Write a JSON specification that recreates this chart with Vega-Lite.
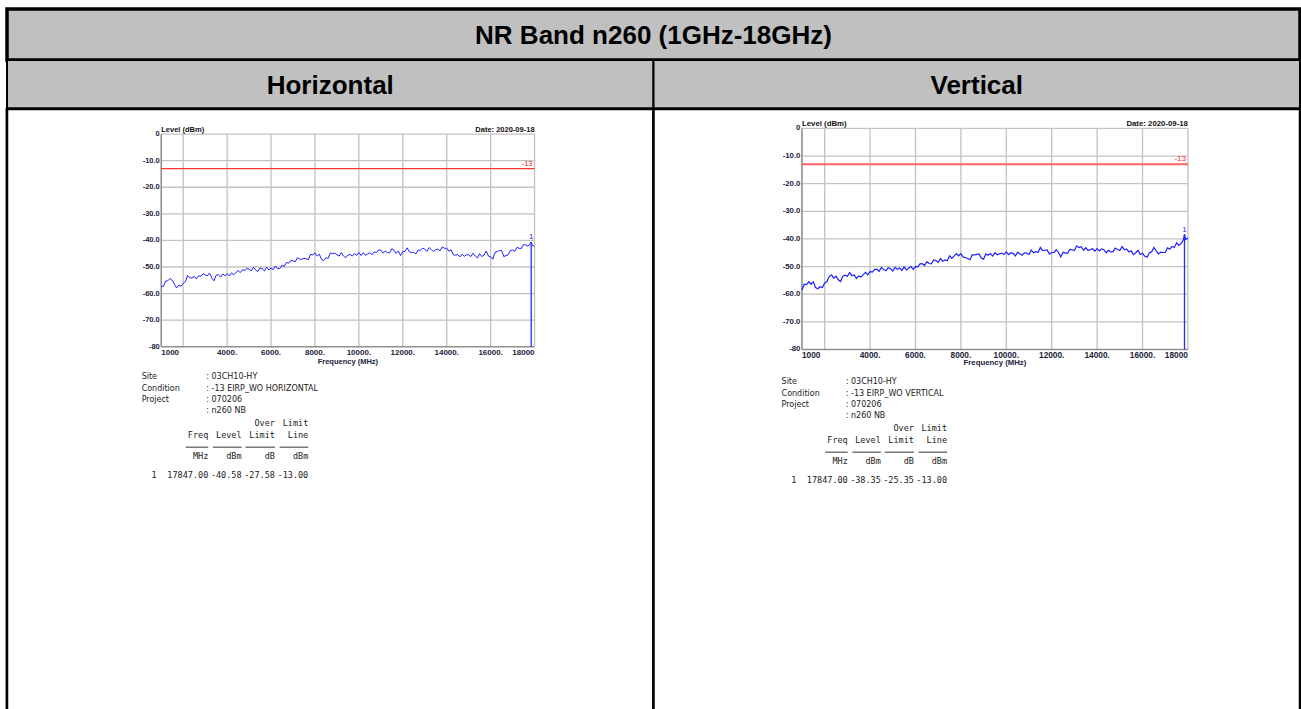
{
"$schema": "https://vega.github.io/schema/vega-lite/v6.json",
"background": "white",
"padding": {"left": 4, "top": 7, "right": 0, "bottom": 0},
"bounds": "flush",
"spacing": 0,
"config": {"axis": {"disable": true}},
"datasets": {
"H": [{"f":1000,"l":-57.2},{"f":1100,"l":-57.3},{"f":1200,"l":-55.3},{"f":1300,"l":-55.2},{"f":1400,"l":-54.3},{"f":1500,"l":-55.0},{"f":1600,"l":-56.5},{"f":1700,"l":-57.9},{"f":1800,"l":-56.8},{"f":1900,"l":-57.3},
{"f":2000,"l":-56.1},{"f":2100,"l":-55.5},{"f":2200,"l":-53.2},{"f":2300,"l":-54.0},{"f":2400,"l":-54.2},{"f":2500,"l":-53.5},{"f":2600,"l":-54.5},{"f":2700,"l":-53.3},{"f":2800,"l":-53.5},{"f":2900,"l":-52.5},
{"f":3000,"l":-53.0},{"f":3100,"l":-53.3},{"f":3200,"l":-52.3},{"f":3300,"l":-54.1},{"f":3400,"l":-55.2},{"f":3500,"l":-53.1},{"f":3600,"l":-52.9},{"f":3700,"l":-53.8},{"f":3800,"l":-52.6},{"f":3900,"l":-53.3},
{"f":4000,"l":-52.5},{"f":4100,"l":-53.4},{"f":4200,"l":-52.2},{"f":4300,"l":-52.9},{"f":4400,"l":-52.1},{"f":4500,"l":-51.3},{"f":4600,"l":-52.1},{"f":4700,"l":-51.0},{"f":4800,"l":-51.3},{"f":4900,"l":-50.6},
{"f":5000,"l":-50.8},{"f":5100,"l":-51.5},{"f":5200,"l":-50.1},{"f":5300,"l":-51.2},{"f":5400,"l":-51.7},{"f":5500,"l":-50.4},{"f":5600,"l":-50.7},{"f":5700,"l":-51.5},{"f":5800,"l":-50.1},{"f":5900,"l":-51.1},
{"f":6000,"l":-50.4},{"f":6100,"l":-51.0},{"f":6200,"l":-49.6},{"f":6300,"l":-50.6},{"f":6400,"l":-50.6},{"f":6500,"l":-49.3},{"f":6600,"l":-49.8},{"f":6700,"l":-48.3},{"f":6800,"l":-48.6},{"f":6900,"l":-47.6},
{"f":7000,"l":-47.6},{"f":7100,"l":-48.1},{"f":7200,"l":-46.5},{"f":7300,"l":-47.0},{"f":7400,"l":-47.1},{"f":7500,"l":-46.7},{"f":7600,"l":-46.9},{"f":7700,"l":-47.3},{"f":7800,"l":-45.2},{"f":7900,"l":-45.5},
{"f":8000,"l":-44.7},{"f":8100,"l":-45.9},{"f":8200,"l":-45.2},{"f":8300,"l":-47.2},{"f":8400,"l":-47.6},{"f":8500,"l":-46.5},{"f":8600,"l":-46.8},{"f":8700,"l":-44.7},{"f":8800,"l":-45.0},{"f":8900,"l":-44.8},
{"f":9000,"l":-45.4},{"f":9100,"l":-45.9},{"f":9200,"l":-44.6},{"f":9300,"l":-45.9},{"f":9400,"l":-46.5},{"f":9500,"l":-45.5},{"f":9600,"l":-45.3},{"f":9700,"l":-45.9},{"f":9800,"l":-45.0},{"f":9900,"l":-45.6},
{"f":10000,"l":-44.5},{"f":10100,"l":-45.7},{"f":10200,"l":-44.6},{"f":10300,"l":-45.6},{"f":10400,"l":-45.1},{"f":10500,"l":-44.6},{"f":10600,"l":-45.4},{"f":10700,"l":-44.3},{"f":10800,"l":-44.6},{"f":10900,"l":-43.6},
{"f":11000,"l":-43.6},{"f":11100,"l":-44.8},{"f":11200,"l":-44.0},{"f":11300,"l":-44.6},{"f":11400,"l":-44.7},{"f":11500,"l":-43.1},{"f":11600,"l":-43.7},{"f":11700,"l":-44.9},{"f":11800,"l":-44.0},{"f":11900,"l":-45.7},
{"f":12000,"l":-44.2},{"f":12100,"l":-44.1},{"f":12200,"l":-42.8},{"f":12300,"l":-44.3},{"f":12400,"l":-44.5},{"f":12500,"l":-44.5},{"f":12600,"l":-45.1},{"f":12700,"l":-43.6},{"f":12800,"l":-43.8},{"f":12900,"l":-42.9},
{"f":13000,"l":-43.3},{"f":13100,"l":-44.1},{"f":13200,"l":-42.7},{"f":13300,"l":-43.5},{"f":13400,"l":-44.2},{"f":13500,"l":-43.4},{"f":13600,"l":-43.3},{"f":13700,"l":-43.9},{"f":13800,"l":-42.4},{"f":13900,"l":-43.0},
{"f":14000,"l":-42.9},{"f":14100,"l":-44.1},{"f":14200,"l":-43.5},{"f":14300,"l":-45.4},{"f":14400,"l":-45.6},{"f":14500,"l":-45.3},{"f":14600,"l":-46.2},{"f":14700,"l":-45.2},{"f":14800,"l":-46.0},{"f":14900,"l":-45.4},
{"f":15000,"l":-45.4},{"f":15100,"l":-46.1},{"f":15200,"l":-44.8},{"f":15300,"l":-45.9},{"f":15400,"l":-46.6},{"f":15500,"l":-45.0},{"f":15600,"l":-46.1},{"f":15700,"l":-45.5},{"f":15800,"l":-44.0},{"f":15900,"l":-45.9},
{"f":16000,"l":-46.2},{"f":16100,"l":-47.1},{"f":16200,"l":-44.5},{"f":16300,"l":-44.2},{"f":16400,"l":-43.8},{"f":16500,"l":-43.8},{"f":16600,"l":-46.1},{"f":16700,"l":-45.7},{"f":16800,"l":-45.4},{"f":16900,"l":-43.8},
{"f":17000,"l":-43.6},{"f":17100,"l":-44.1},{"f":17200,"l":-42.6},{"f":17300,"l":-43.0},{"f":17400,"l":-43.0},{"f":17500,"l":-41.5},{"f":17600,"l":-41.7},{"f":17700,"l":-42.2},{"f":17800,"l":-41.2},{"f":17847,"l":-40.58},{"f":17900,"l":-41.9},{"f":18000,"l":-42.2}],
"V": [{"f":1000,"l":-58.6},{"f":1100,"l":-56.4},{"f":1200,"l":-56.5},{"f":1300,"l":-55.5},{"f":1400,"l":-56.4},{"f":1500,"l":-55.5},{"f":1600,"l":-57.6},{"f":1700,"l":-58.0},{"f":1800,"l":-57.3},{"f":1900,"l":-57.6},
{"f":2000,"l":-56.0},{"f":2100,"l":-55.4},{"f":2200,"l":-53.6},{"f":2300,"l":-53.0},{"f":2400,"l":-54.2},{"f":2500,"l":-53.5},{"f":2600,"l":-54.8},{"f":2700,"l":-55.4},{"f":2800,"l":-53.5},{"f":2900,"l":-53.1},
{"f":3000,"l":-53.5},{"f":3100,"l":-52.2},{"f":3200,"l":-53.3},{"f":3300,"l":-53.0},{"f":3400,"l":-54.3},{"f":3500,"l":-53.4},{"f":3600,"l":-53.8},{"f":3700,"l":-52.9},{"f":3800,"l":-52.1},{"f":3900,"l":-53.0},
{"f":4000,"l":-51.8},{"f":4100,"l":-52.0},{"f":4200,"l":-51.0},{"f":4300,"l":-51.0},{"f":4400,"l":-51.7},{"f":4500,"l":-50.3},{"f":4600,"l":-51.1},{"f":4700,"l":-51.5},{"f":4800,"l":-50.4},{"f":4900,"l":-50.8},
{"f":5000,"l":-51.6},{"f":5100,"l":-50.2},{"f":5200,"l":-51.0},{"f":5300,"l":-50.5},{"f":5400,"l":-51.4},{"f":5500,"l":-50.1},{"f":5600,"l":-51.2},{"f":5700,"l":-50.6},{"f":5800,"l":-50.0},{"f":5900,"l":-51.0},
{"f":6000,"l":-50.0},{"f":6100,"l":-50.1},{"f":6200,"l":-49.0},{"f":6300,"l":-48.9},{"f":6400,"l":-49.6},{"f":6500,"l":-48.2},{"f":6600,"l":-48.9},{"f":6700,"l":-49.0},{"f":6800,"l":-47.6},{"f":6900,"l":-47.8},
{"f":7000,"l":-48.5},{"f":7100,"l":-47.1},{"f":7200,"l":-48.1},{"f":7300,"l":-47.6},{"f":7400,"l":-47.9},{"f":7500,"l":-46.1},{"f":7600,"l":-47.0},{"f":7700,"l":-46.2},{"f":7800,"l":-45.3},{"f":7900,"l":-46.1},
{"f":8000,"l":-45.3},{"f":8100,"l":-46.6},{"f":8200,"l":-46.7},{"f":8300,"l":-47.1},{"f":8400,"l":-47.5},{"f":8500,"l":-45.7},{"f":8600,"l":-45.8},{"f":8700,"l":-45.6},{"f":8800,"l":-45.4},{"f":8900,"l":-46.9},
{"f":9000,"l":-47.3},{"f":9100,"l":-45.4},{"f":9200,"l":-45.9},{"f":9300,"l":-45.3},{"f":9400,"l":-46.2},{"f":9500,"l":-45.0},{"f":9600,"l":-45.7},{"f":9700,"l":-45.4},{"f":9800,"l":-45.1},{"f":9900,"l":-45.6},
{"f":10000,"l":-44.7},{"f":10100,"l":-45.7},{"f":10200,"l":-45.0},{"f":10300,"l":-45.2},{"f":10400,"l":-46.2},{"f":10500,"l":-44.8},{"f":10600,"l":-45.4},{"f":10700,"l":-45.9},{"f":10800,"l":-45.0},{"f":10900,"l":-45.1},
{"f":11000,"l":-45.6},{"f":11100,"l":-44.0},{"f":11200,"l":-45.0},{"f":11300,"l":-44.6},{"f":11400,"l":-44.8},{"f":11500,"l":-43.1},{"f":11600,"l":-44.2},{"f":11700,"l":-44.1},{"f":11800,"l":-44.0},{"f":11900,"l":-45.5},
{"f":12000,"l":-44.9},{"f":12100,"l":-44.9},{"f":12200,"l":-43.9},{"f":12300,"l":-44.9},{"f":12400,"l":-46.5},{"f":12500,"l":-44.8},{"f":12600,"l":-45.1},{"f":12700,"l":-45.1},{"f":12800,"l":-43.8},{"f":12900,"l":-43.9},
{"f":13000,"l":-44.2},{"f":13100,"l":-42.5},{"f":13200,"l":-43.1},{"f":13300,"l":-42.8},{"f":13400,"l":-44.1},{"f":13500,"l":-43.2},{"f":13600,"l":-44.2},{"f":13700,"l":-43.8},{"f":13800,"l":-43.5},{"f":13900,"l":-44.4},
{"f":14000,"l":-43.5},{"f":14100,"l":-44.3},{"f":14200,"l":-43.6},{"f":14300,"l":-43.9},{"f":14400,"l":-45.0},{"f":14500,"l":-44.1},{"f":14600,"l":-44.7},{"f":14700,"l":-44.6},{"f":14800,"l":-43.3},{"f":14900,"l":-43.8},
{"f":15000,"l":-44.2},{"f":15100,"l":-42.8},{"f":15200,"l":-43.9},{"f":15300,"l":-43.6},{"f":15400,"l":-44.7},{"f":15500,"l":-44.3},{"f":15600,"l":-45.7},{"f":15700,"l":-45.0},{"f":15800,"l":-44.1},{"f":15900,"l":-45.6},
{"f":16000,"l":-45.2},{"f":16100,"l":-46.3},{"f":16200,"l":-46.6},{"f":16300,"l":-45.0},{"f":16400,"l":-44.7},{"f":16500,"l":-43.1},{"f":16600,"l":-44.3},{"f":16700,"l":-45.4},{"f":16800,"l":-44.8},{"f":16900,"l":-44.9},
{"f":17000,"l":-44.9},{"f":17100,"l":-43.2},{"f":17200,"l":-43.7},{"f":17300,"l":-42.7},{"f":17400,"l":-43.1},{"f":17500,"l":-41.4},{"f":17600,"l":-42.3},{"f":17700,"l":-41.6},{"f":17800,"l":-40.3},{"f":17847,"l":-38.35},{"f":17900,"l":-40.2},{"f":18000,"l":-39.7}],
"xt": [{"v":1000,"lab":"1000"},{"v":2000,"lab":""},{"v":4000,"lab":"4000."},{"v":6000,"lab":"6000."},{"v":8000,"lab":"8000."},{"v":10000,"lab":"10000."},{"v":12000,"lab":"12000."},{"v":14000,"lab":"14000."},{"v":16000,"lab":"16000."},{"v":18000,"lab":"18000"}],
"yt": [{"v":0,"lab":"0"},{"v":-10,"lab":"-10.0"},{"v":-20,"lab":"-20.0"},{"v":-30,"lab":"-30.0"},{"v":-40,"lab":"-40.0"},{"v":-50,"lab":"-50.0"},{"v":-60,"lab":"-60.0"},{"v":-70,"lab":"-70.0"},{"v":-80,"lab":"-80"}],
"pols": [{"pol": "Horizontal"}, {"pol": "Vertical"}],
"infoH": [{"ln":0,"key":"Site","val":": 03CH10-HY"},{"ln":1,"key":"Condition","val":": -13 EIRP_WO HORIZONTAL"},{"ln":2,"key":"Project","val":": 070206"},{"ln":3,"key":"","val":": n260 NB"}],
"infoV": [{"ln":0,"key":"Site","val":": 03CH10-HY"},{"ln":1,"key":"Condition","val":": -13 EIRP_WO VERTICAL"},{"ln":2,"key":"Project","val":": 070206"},{"ln":3,"key":"","val":": n260 NB"}],
"tabH": [{"col":1,"from":0.32,"top":"","head":"Freq","unit":"MHz","val":"17847.00"},{"col":2,"from":1.14,"top":"","head":"Level","unit":"dBm","val":"-40.58"},{"col":3,"from":2.12,"top":"Over","head":"Limit","unit":"dB","val":"-27.58"},{"col":4,"from":3.14,"top":"Limit","head":"Line","unit":"dBm","val":"-13.00"}],
"tabV": [{"col":1,"from":0.32,"top":"","head":"Freq","unit":"MHz","val":"17847.00"},{"col":2,"from":1.14,"top":"","head":"Level","unit":"dBm","val":"-38.35"},{"col":3,"from":2.12,"top":"Over","head":"Limit","unit":"dB","val":"-25.35"},{"col":4,"from":3.14,"top":"Limit","head":"Line","unit":"dBm","val":"-13.00"}]
},
"vconcat": [
 {"width": 1293, "height": 51, "view": {"fill": "#c0c0c0", "stroke": "black", "strokeWidth": 3.5},
  "data": {"values": [{"t": "NR Band n260 (1GHz-18GHz)"}]},
  "mark": {"type": "text", "font": "Liberation Sans", "fontWeight": "bold", "fontSize": 26, "baseline": "middle", "color": "black", "dy": 1.5},
  "encoding": {"text": {"field": "t"}}},
 {"width": 1293, "height": 48.5, "view": {"fill": "#c0c0c0", "stroke": "black", "strokeWidth": 2},
  "data": {"name": "pols"},
  "encoding": {"x": {"field": "pol", "type": "nominal", "sort": null, "scale": {"paddingInner": 0, "paddingOuter": 0}}},
  "layer": [
   {"mark": {"type": "rect", "fill": "#c0c0c0", "stroke": "black", "strokeWidth": 2}},
   {"mark": {"type": "text", "font": "Liberation Sans", "fontWeight": "bold", "fontSize": 26, "baseline": "middle", "color": "black", "dy": 2},
    "encoding": {"text": {"field": "pol"}}}
  ]},
 {"width": 1293, "height": 605, "view": {"fill": "white", "stroke": "black", "strokeWidth": 2.5},
  "resolve": {"scale": {"x": "independent", "y": "independent"}},
  "layer": [
   {"data": {"name": "pols"}, "mark": {"type": "rect", "fill": "white", "stroke": "black", "strokeWidth": 2.5},
    "encoding": {"x": {"field": "pol", "type": "nominal", "sort": null, "scale": {"paddingInner": 0, "paddingOuter": 0}}}},
   {"layer": [
     {"data": {"name": "xt"}, "transform": [{"filter": "datum.v > 1000"}], "mark": {"type": "rule", "color": "#c2c2c2", "strokeWidth": 1.3},
      "encoding": {"x": {"field": "v", "type": "quantitative", "scale": {"domain": [1000, 18000], "range": [154.25, 527.55], "nice": false, "zero": false}},
                   "y": {"datum": -80, "type": "quantitative", "scale": {"domain": [-80, 0], "range": [237.75, 25.05], "nice": false, "zero": false}}, "y2": {"datum": 0}}},
     {"data": {"name": "yt"}, "transform": [{"filter": "datum.v > -80"}], "mark": {"type": "rule", "color": "#c2c2c2", "strokeWidth": 1.3},
      "encoding": {"y": {"field": "v", "type": "quantitative"}, "x": {"datum": 1000, "type": "quantitative"}, "x2": {"datum": 18000}}},
     {"data": {"name": "xt"}, "transform": [{"filter": "datum.v == 1000"}], "mark": {"type": "rule", "color": "#8f8f8f", "strokeWidth": 1.6},
      "encoding": {"x": {"field": "v", "type": "quantitative"}, "y": {"datum": -80, "type": "quantitative"}, "y2": {"datum": 0}}},
     {"data": {"name": "yt"}, "transform": [{"filter": "datum.v == -80"}], "mark": {"type": "rule", "color": "#8f8f8f", "strokeWidth": 1.6},
      "encoding": {"y": {"field": "v", "type": "quantitative"}, "x": {"datum": 1000, "type": "quantitative"}, "x2": {"datum": 18000}}},
     {"data": {"values": [{"limit": -13}]}, "mark": {"type": "rule", "color": "#ff3030", "strokeWidth": 1.2},
      "encoding": {"x": {"datum": 1000, "type": "quantitative"}, "x2": {"datum": 18000}, "y": {"field": "limit", "type": "quantitative"}}},
     {"data": {"name": "H"}, "mark": {"type": "line", "color": "#1f1fff", "strokeWidth": 1},
      "encoding": {"x": {"field": "f", "type": "quantitative"}, "y": {"field": "l", "type": "quantitative"}}},
     {"data": {"values": [{"limit": -13, "lab": "-13"}]}, "mark": {"type": "text", "color": "#ff2020", "fontSize": 7.5, "font": "Liberation Sans", "align": "right", "baseline": "bottom", "dx": -2, "dy": -0.5},
      "encoding": {"x": {"datum": 18000, "type": "quantitative"}, "y": {"field": "limit", "type": "quantitative"}, "text": {"field": "lab"}}},
     {"data": {"values": [{"f": 17847, "l": -40.58, "m": "1"}]}, "mark": {"type": "rule", "color": "#2a2aff", "strokeWidth": 1.3},
      "encoding": {"x": {"field": "f", "type": "quantitative"}, "y": {"field": "l", "type": "quantitative"}, "y2": {"datum": -80}}},
     {"data": {"values": [{"f": 17847, "l": -40.58, "m": "1"}]}, "mark": {"type": "text", "color": "#2a2aff", "fontSize": 8, "font": "Liberation Sans", "baseline": "bottom", "dy": -0.5},
      "encoding": {"x": {"field": "f", "type": "quantitative"}, "y": {"field": "l", "type": "quantitative"}, "text": {"field": "m"}}},
     {"data": {"values": [{"a": "Level (dBm)", "d": "Date: 2020-09-18"}]}, "mark": {"type": "text", "color": "#111111", "fontSize": 7.5, "fontWeight": "bold", "font": "Liberation Sans", "align": "left", "baseline": "alphabetic", "dy": -2},
      "encoding": {"x": {"datum": 1000, "type": "quantitative"}, "y": {"datum": 0, "type": "quantitative"}, "text": {"field": "a"}}},
     {"data": {"values": [{"a": "Level (dBm)", "d": "Date: 2020-09-18"}]}, "mark": {"type": "text", "color": "#111111", "fontSize": 7.5, "fontWeight": "bold", "font": "Liberation Sans", "align": "right", "baseline": "alphabetic", "dy": -2},
      "encoding": {"x": {"datum": 18000, "type": "quantitative"}, "y": {"datum": 0, "type": "quantitative"}, "text": {"field": "d"}}},
     {"data": {"name": "xt"}, "transform": [{"filter": "datum.v == 1000"}], "mark": {"type": "text", "color": "#1c1c3a", "fontSize": 8, "fontWeight": "bold", "font": "Liberation Sans", "align": "left", "baseline": "top", "dy": 2},
      "encoding": {"x": {"field": "v", "type": "quantitative"}, "y": {"datum": -80, "type": "quantitative"}, "text": {"field": "lab"}}},
     {"data": {"name": "xt"}, "transform": [{"filter": "datum.v > 1000 && datum.v < 18000"}], "mark": {"type": "text", "color": "#1c1c3a", "fontSize": 8, "fontWeight": "bold", "font": "Liberation Sans", "align": "center", "baseline": "top", "dy": 2},
      "encoding": {"x": {"field": "v", "type": "quantitative"}, "y": {"datum": -80, "type": "quantitative"}, "text": {"field": "lab"}}},
     {"data": {"name": "xt"}, "transform": [{"filter": "datum.v == 18000"}], "mark": {"type": "text", "color": "#1c1c3a", "fontSize": 8, "fontWeight": "bold", "font": "Liberation Sans", "align": "right", "baseline": "top", "dy": 2},
      "encoding": {"x": {"field": "v", "type": "quantitative"}, "y": {"datum": -80, "type": "quantitative"}, "text": {"field": "lab"}}},
     {"data": {"name": "yt"}, "mark": {"type": "text", "color": "#1c1c3a", "fontSize": 7.5, "fontWeight": "bold", "font": "Liberation Sans", "align": "right", "baseline": "middle", "dx": -1.5},
      "encoding": {"x": {"datum": 1000, "type": "quantitative"}, "y": {"field": "v", "type": "quantitative"}, "text": {"field": "lab"}}},
     {"data": {"values": [{"t": "Frequency (MHz)"}]}, "mark": {"type": "text", "color": "#1c1c3a", "fontSize": 7.5, "fontWeight": "bold", "font": "Liberation Sans", "align": "center", "baseline": "top", "dy": 11},
      "encoding": {"x": {"datum": 9500, "type": "quantitative"}, "y": {"datum": -80, "type": "quantitative"}, "text": {"field": "t"}}}
   ]},
   {"layer": [
     {"data": {"name": "infoH"}, "mark": {"type": "text", "align": "left", "baseline": "middle", "font": "DejaVu Sans", "fontSize": 8, "color": "#1a1a1a"},
      "encoding": {"x": {"datum": -1, "type": "quantitative", "scale": {"domain": [-1, 4], "range": [134.63, 301.25], "nice": false, "zero": false}},
                   "y": {"field": "ln", "type": "quantitative", "scale": {"domain": [0, 10], "range": [268.45, 379.45], "nice": false, "zero": false}}, "text": {"field": "key"}}},
     {"data": {"name": "infoH"}, "mark": {"type": "text", "align": "left", "baseline": "middle", "font": "DejaVu Sans", "fontSize": 8, "color": "#1a1a1a"},
      "encoding": {"x": {"datum": 0.94, "type": "quantitative"}, "y": {"field": "ln", "type": "quantitative"}, "text": {"field": "val"}}},
     {"data": {"name": "tabH"}, "mark": {"type": "text", "align": "right", "baseline": "middle", "font": "DejaVu Sans Mono", "fontSize": 8.5, "color": "#1a1a1a"},
      "encoding": {"x": {"field": "col", "type": "quantitative"}, "y": {"datum": 4.14, "type": "quantitative"}, "text": {"field": "top"}}},
     {"data": {"name": "tabH"}, "mark": {"type": "text", "align": "right", "baseline": "middle", "font": "DejaVu Sans Mono", "fontSize": 8.5, "color": "#1a1a1a"},
      "encoding": {"x": {"field": "col", "type": "quantitative"}, "y": {"datum": 5.16, "type": "quantitative"}, "text": {"field": "head"}}},
     {"data": {"name": "tabH"}, "mark": {"type": "rule", "color": "#333333", "strokeWidth": 1},
      "encoding": {"x": {"field": "from", "type": "quantitative"}, "x2": {"field": "col"}, "y": {"datum": 6.28, "type": "quantitative"}}},
     {"data": {"name": "tabH"}, "mark": {"type": "text", "align": "right", "baseline": "middle", "font": "DejaVu Sans Mono", "fontSize": 8.5, "color": "#1a1a1a"},
      "encoding": {"x": {"field": "col", "type": "quantitative"}, "y": {"datum": 7.1, "type": "quantitative"}, "text": {"field": "unit"}}},
     {"data": {"name": "tabH"}, "mark": {"type": "text", "align": "right", "baseline": "middle", "font": "DejaVu Sans Mono", "fontSize": 8.5, "color": "#1a1a1a"},
      "encoding": {"x": {"field": "col", "type": "quantitative"}, "y": {"datum": 8.78, "type": "quantitative"}, "text": {"field": "val"}}},
     {"data": {"values": [{"no": "1"}]}, "mark": {"type": "text", "align": "center", "baseline": "middle", "font": "DejaVu Sans Mono", "fontSize": 8.5, "color": "#1a1a1a"},
      "encoding": {"x": {"datum": -0.63, "type": "quantitative"}, "y": {"datum": 8.78, "type": "quantitative"}, "text": {"field": "no"}}}
   ]},
   {"layer": [
     {"data": {"name": "xt"}, "transform": [{"filter": "datum.v > 1000"}], "mark": {"type": "rule", "color": "#c2c2c2", "strokeWidth": 1.3},
      "encoding": {"x": {"field": "v", "type": "quantitative", "scale": {"domain": [1000, 18000], "range": [794.95, 1180.95], "nice": false, "zero": false}},
                   "y": {"datum": -80, "type": "quantitative", "scale": {"domain": [-80, 0], "range": [240.45, 19.45], "nice": false, "zero": false}}, "y2": {"datum": 0}}},
     {"data": {"name": "yt"}, "transform": [{"filter": "datum.v > -80"}], "mark": {"type": "rule", "color": "#c2c2c2", "strokeWidth": 1.3},
      "encoding": {"y": {"field": "v", "type": "quantitative"}, "x": {"datum": 1000, "type": "quantitative"}, "x2": {"datum": 18000}}},
     {"data": {"name": "xt"}, "transform": [{"filter": "datum.v == 1000"}], "mark": {"type": "rule", "color": "#8f8f8f", "strokeWidth": 1.6},
      "encoding": {"x": {"field": "v", "type": "quantitative"}, "y": {"datum": -80, "type": "quantitative"}, "y2": {"datum": 0}}},
     {"data": {"name": "yt"}, "transform": [{"filter": "datum.v == -80"}], "mark": {"type": "rule", "color": "#8f8f8f", "strokeWidth": 1.6},
      "encoding": {"y": {"field": "v", "type": "quantitative"}, "x": {"datum": 1000, "type": "quantitative"}, "x2": {"datum": 18000}}},
     {"data": {"values": [{"limit": -13}]}, "mark": {"type": "rule", "color": "#ff6060", "strokeWidth": 2},
      "encoding": {"x": {"datum": 1000, "type": "quantitative"}, "x2": {"datum": 18000}, "y": {"field": "limit", "type": "quantitative"}}},
     {"data": {"name": "V"}, "mark": {"type": "line", "color": "#1f1fff", "strokeWidth": 1.2},
      "encoding": {"x": {"field": "f", "type": "quantitative"}, "y": {"field": "l", "type": "quantitative"}}},
     {"data": {"values": [{"limit": -13, "lab": "-13"}]}, "mark": {"type": "text", "color": "#ff2020", "fontSize": 8, "font": "Liberation Sans", "align": "right", "baseline": "bottom", "dx": -2, "dy": -1},
      "encoding": {"x": {"datum": 18000, "type": "quantitative"}, "y": {"field": "limit", "type": "quantitative"}, "text": {"field": "lab"}}},
     {"data": {"values": [{"f": 17847, "l": -38.35, "m": "1"}]}, "mark": {"type": "rule", "color": "#2a2aff", "strokeWidth": 1.3},
      "encoding": {"x": {"field": "f", "type": "quantitative"}, "y": {"field": "l", "type": "quantitative"}, "y2": {"datum": -80}}},
     {"data": {"values": [{"f": 17847, "l": -38.35, "m": "1"}]}, "mark": {"type": "text", "color": "#2a2aff", "fontSize": 8, "font": "Liberation Sans", "baseline": "bottom", "dy": -0.5},
      "encoding": {"x": {"field": "f", "type": "quantitative"}, "y": {"field": "l", "type": "quantitative"}, "text": {"field": "m"}}},
     {"data": {"values": [{"a": "Level (dBm)", "d": "Date: 2020-09-18"}]}, "mark": {"type": "text", "color": "#111111", "fontSize": 7.8, "fontWeight": "bold", "font": "Liberation Sans", "align": "left", "baseline": "alphabetic", "dy": -2},
      "encoding": {"x": {"datum": 1000, "type": "quantitative"}, "y": {"datum": 0, "type": "quantitative"}, "text": {"field": "a"}}},
     {"data": {"values": [{"a": "Level (dBm)", "d": "Date: 2020-09-18"}]}, "mark": {"type": "text", "color": "#111111", "fontSize": 7.8, "fontWeight": "bold", "font": "Liberation Sans", "align": "right", "baseline": "alphabetic", "dy": -2},
      "encoding": {"x": {"datum": 18000, "type": "quantitative"}, "y": {"datum": 0, "type": "quantitative"}, "text": {"field": "d"}}},
     {"data": {"name": "xt"}, "transform": [{"filter": "datum.v == 1000"}], "mark": {"type": "text", "color": "#1c1c3a", "fontSize": 8.3, "fontWeight": "bold", "font": "Liberation Sans", "align": "left", "baseline": "top", "dy": 2},
      "encoding": {"x": {"field": "v", "type": "quantitative"}, "y": {"datum": -80, "type": "quantitative"}, "text": {"field": "lab"}}},
     {"data": {"name": "xt"}, "transform": [{"filter": "datum.v > 1000 && datum.v < 18000"}], "mark": {"type": "text", "color": "#1c1c3a", "fontSize": 8.3, "fontWeight": "bold", "font": "Liberation Sans", "align": "center", "baseline": "top", "dy": 2},
      "encoding": {"x": {"field": "v", "type": "quantitative"}, "y": {"datum": -80, "type": "quantitative"}, "text": {"field": "lab"}}},
     {"data": {"name": "xt"}, "transform": [{"filter": "datum.v == 18000"}], "mark": {"type": "text", "color": "#1c1c3a", "fontSize": 8.3, "fontWeight": "bold", "font": "Liberation Sans", "align": "right", "baseline": "top", "dy": 2},
      "encoding": {"x": {"field": "v", "type": "quantitative"}, "y": {"datum": -80, "type": "quantitative"}, "text": {"field": "lab"}}},
     {"data": {"name": "yt"}, "mark": {"type": "text", "color": "#1c1c3a", "fontSize": 7.8, "fontWeight": "bold", "font": "Liberation Sans", "align": "right", "baseline": "middle", "dx": -1.5},
      "encoding": {"x": {"datum": 1000, "type": "quantitative"}, "y": {"field": "v", "type": "quantitative"}, "text": {"field": "lab"}}},
     {"data": {"values": [{"t": "Frequency (MHz)"}]}, "mark": {"type": "text", "color": "#1c1c3a", "fontSize": 7.8, "fontWeight": "bold", "font": "Liberation Sans", "align": "center", "baseline": "top", "dy": 10},
      "encoding": {"x": {"datum": 9500, "type": "quantitative"}, "y": {"datum": -80, "type": "quantitative"}, "text": {"field": "t"}}}
   ]},
   {"layer": [
     {"data": {"name": "infoV"}, "mark": {"type": "text", "align": "left", "baseline": "middle", "font": "DejaVu Sans", "fontSize": 8, "color": "#1a1a1a"},
      "encoding": {"x": {"datum": -1, "type": "quantitative", "scale": {"domain": [-1, 4], "range": [774.55, 940.05], "nice": false, "zero": false}},
                   "y": {"field": "ln", "type": "quantitative", "scale": {"domain": [0, 10], "range": [273.45, 384.45], "nice": false, "zero": false}}, "text": {"field": "key"}}},
     {"data": {"name": "infoV"}, "mark": {"type": "text", "align": "left", "baseline": "middle", "font": "DejaVu Sans", "fontSize": 8, "color": "#1a1a1a"},
      "encoding": {"x": {"datum": 0.94, "type": "quantitative"}, "y": {"field": "ln", "type": "quantitative"}, "text": {"field": "val"}}},
     {"data": {"name": "tabV"}, "mark": {"type": "text", "align": "right", "baseline": "middle", "font": "DejaVu Sans Mono", "fontSize": 8.5, "color": "#1a1a1a"},
      "encoding": {"x": {"field": "col", "type": "quantitative"}, "y": {"datum": 4.14, "type": "quantitative"}, "text": {"field": "top"}}},
     {"data": {"name": "tabV"}, "mark": {"type": "text", "align": "right", "baseline": "middle", "font": "DejaVu Sans Mono", "fontSize": 8.5, "color": "#1a1a1a"},
      "encoding": {"x": {"field": "col", "type": "quantitative"}, "y": {"datum": 5.16, "type": "quantitative"}, "text": {"field": "head"}}},
     {"data": {"name": "tabV"}, "mark": {"type": "rule", "color": "#333333", "strokeWidth": 1},
      "encoding": {"x": {"field": "from", "type": "quantitative"}, "x2": {"field": "col"}, "y": {"datum": 6.28, "type": "quantitative"}}},
     {"data": {"name": "tabV"}, "mark": {"type": "text", "align": "right", "baseline": "middle", "font": "DejaVu Sans Mono", "fontSize": 8.5, "color": "#1a1a1a"},
      "encoding": {"x": {"field": "col", "type": "quantitative"}, "y": {"datum": 7.1, "type": "quantitative"}, "text": {"field": "unit"}}},
     {"data": {"name": "tabV"}, "mark": {"type": "text", "align": "right", "baseline": "middle", "font": "DejaVu Sans Mono", "fontSize": 8.5, "color": "#1a1a1a"},
      "encoding": {"x": {"field": "col", "type": "quantitative"}, "y": {"datum": 8.78, "type": "quantitative"}, "text": {"field": "val"}}},
     {"data": {"values": [{"no": "1"}]}, "mark": {"type": "text", "align": "center", "baseline": "middle", "font": "DejaVu Sans Mono", "fontSize": 8.5, "color": "#1a1a1a"},
      "encoding": {"x": {"datum": -0.63, "type": "quantitative"}, "y": {"datum": 8.78, "type": "quantitative"}, "text": {"field": "no"}}}
   ]}
  ]}
]
}
